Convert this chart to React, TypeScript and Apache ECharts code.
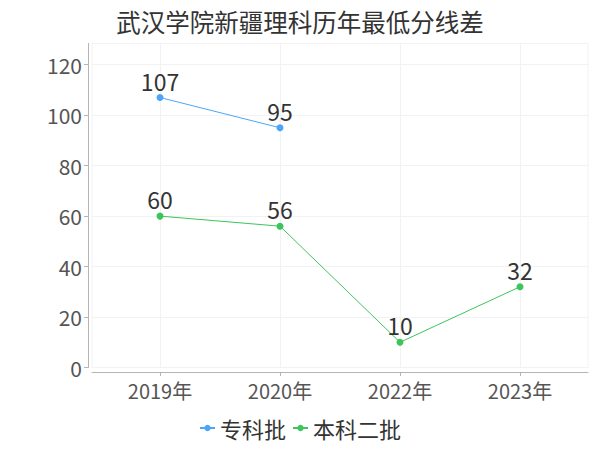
import React, { useEffect, useRef } from "react";
import * as echarts from "echarts";

const titleText = "武汉学院新疆理科历年最低分线差";
const categories = ["2019年", "2020年", "2022年", "2023年"];
const seriesNames = ["专科批", "本科二批"];
const zhuanke: (number | null)[] = [107, 95, null, null];
const benke2: (number | null)[] = [60, 56, 10, 32];
const yTicks = [0, 20, 40, 60, 80, 100, 120];
const colors = ["#4BA6F7", "#3DC55B"];

const FONT = '"Noto Sans CJK SC", "Noto Sans", sans-serif';

function toPairs(arr: (number | null)[]) {
  return arr
    .map((v, i) => (v === null ? null : [i, v]))
    .filter((p) => p !== null) as number[][];
}

export default function App() {
  const ref = useRef<HTMLDivElement>(null);
  useEffect(() => {
    document.body.style.margin = "0";
    if (!ref.current) return;
    const chart = echarts.init(ref.current, undefined, { renderer: "svg" });
    const maxVal = Math.max(...(zhuanke.filter((v) => v !== null) as number[])) * 1.2;
    const mkSeries = (name: string, arr: (number | null)[], color: string) => ({
      name,
      type: "line",
      data: toPairs(arr),
      symbol: "circle",
      symbolSize: 7,
      itemStyle: { color },
      lineStyle: { color, width: 1 },
      label: {
        show: true,
        position: "top",
        distance: 2,
        fontSize: 23,
        color: "#333",
        fontFamily: FONT,
        formatter: (p: any) => String(p.value[1]),
      },
    });
    chart.setOption({
      animation: false,
      backgroundColor: "#fff",
      textStyle: { fontFamily: FONT },
      title: {
        text: titleText,
        left: "center",
        top: 4,
        textStyle: { fontSize: 24.5, fontWeight: "normal", color: "#333", fontFamily: FONT },
      },
      legend: {
        data: seriesNames,
        bottom: 6,
        left: "center",
        itemWidth: 15,
        itemHeight: 8,
        itemGap: 6,
        textStyle: { fontSize: 22, color: "#333", fontFamily: FONT },
      },
      grid: {
        left: 92,
        right: 12,
        top: 43.5,
        bottom: 82.5,
        show: true,
        borderColor: "#f2f2f2",
        borderWidth: 1,
        backgroundColor: "transparent",
      },
      xAxis: {
        type: "value",
        min: -0.5667,
        max: 3.5667,
        offset: 4.5,
        axisLine: { show: true, onZero: false, lineStyle: { color: "#b5b5b5" } },
        axisTick: { show: true, length: 4, customValues: categories.map((_, i) => i), lineStyle: { color: "#b5b5b5" } },
        axisLabel: {
          customValues: categories.map((_, i) => i),
          formatter: (v: number) => categories[Math.round(v)] ?? "",
          fontSize: 20,
          color: "#555",
          margin: 8,
          fontFamily: FONT,
        },
        splitLine: { show: true, lineStyle: { color: "#f2f2f2" } },
      },
      yAxis: {
        type: "value",
        min: 0,
        max: maxVal,
        offset: 4,
        axisLine: { show: true, onZero: false, lineStyle: { color: "#b5b5b5" } },
        axisTick: { show: true, length: 4, customValues: yTicks, lineStyle: { color: "#b5b5b5" } },
        axisLabel: {
          customValues: yTicks,
          fontSize: 21,
          color: "#555",
          margin: 6,
          fontFamily: FONT,
        },
        splitLine: { show: true, lineStyle: { color: "#f2f2f2" } },
      },
      series: [
        mkSeries(seriesNames[0], zhuanke, colors[0]),
        mkSeries(seriesNames[1], benke2, colors[1]),
      ],
    });
    return () => chart.dispose();
  }, []);
  return <div ref={ref} style={{ width: 600, height: 450 }} />;
}
